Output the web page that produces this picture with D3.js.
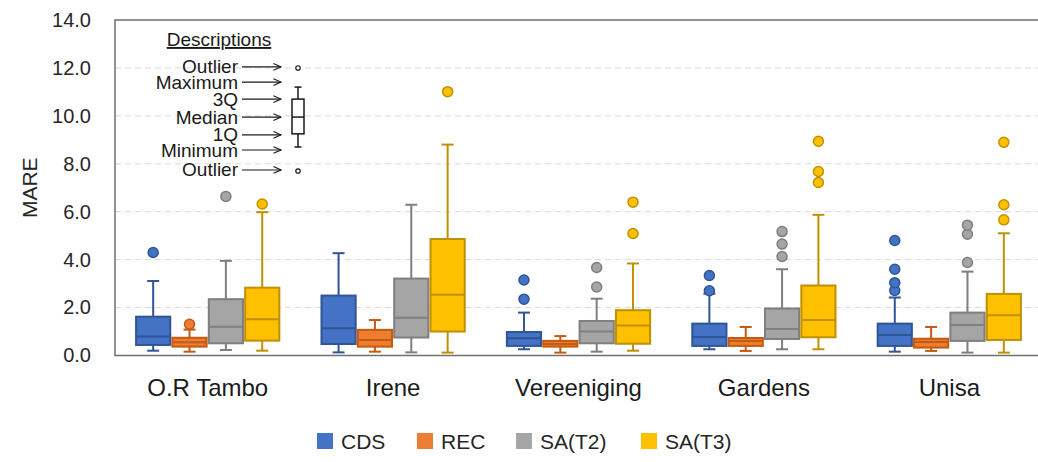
<!DOCTYPE html>
<html>
<head>
<meta charset="utf-8">
<script src="https://cdn.jsdelivr.net/npm/d3@7"></script>
<style>
  html, body { margin: 0; padding: 0; background: #fff; }
  svg { display: block; font-family: "Liberation Sans", Arial, sans-serif; }
</style>
</head>
<body>
<svg id="chart" width="1038" height="462"></svg>
<script>
// Sites and methods
const sites = ["O.R Tambo", "Irene", "Vereeniging", "Gardens", "Unisa"];
const methods = ["CDS", "REC", "SA(T2)", "SA(T3)"];

// Five-number summaries per site: [min, Q1, median, Q3, max]
const cdsStats = [[0.20, 0.44, 0.79, 1.62, 3.11], [0.13, 0.48, 1.14, 2.50, 4.27], [0.26, 0.40, 0.72, 0.98, 1.79], [0.26, 0.40, 0.77, 1.33, 2.58], [0.16, 0.40, 0.86, 1.33, 2.42]];
const recStats = [[0.16, 0.37, 0.55, 0.74, 1.08], [0.16, 0.37, 0.65, 1.07, 1.48], [0.12, 0.37, 0.48, 0.61, 0.81], [0.19, 0.40, 0.61, 0.73, 1.19], [0.19, 0.33, 0.56, 0.70, 1.19]];
const t2Stats  = [[0.23, 0.51, 1.20, 2.35, 3.95], [0.13, 0.75, 1.58, 3.21, 6.29], [0.16, 0.51, 1.00, 1.44, 2.37], [0.26, 0.69, 1.11, 1.96, 3.60], [0.12, 0.61, 1.27, 1.79, 3.50]];
const t3Stats  = [[0.20, 0.62, 1.51, 2.83, 5.98], [0.12, 1.00, 2.53, 4.86, 8.80], [0.20, 0.49, 1.25, 1.89, 3.84], [0.26, 0.76, 1.48, 2.92, 5.87], [0.12, 0.65, 1.68, 2.57, 5.10]];

// Outliers per site
const cdsOutliers = [[4.30], [], [2.35, 3.15], [2.70, 3.34], [2.71, 3.04, 3.60, 4.80]];
const recOutliers = [[1.30], [], [], [], []];
const t2Outliers  = [[6.64], [], [2.86, 3.67], [4.13, 4.65, 5.17], [3.88, 5.06, 5.44]];
const t3Outliers  = [[6.32], [11.01], [5.09, 6.40], [7.22, 7.68, 8.94], [5.66, 6.29, 8.90]];

// Axis ticks
const yTicks = [0, 2, 4, 6, 8, 10, 12, 14];

// Key box explaining the glyph
const keyLabels = ["Outlier", "Maximum", "3Q", "Median", "1Q", "Minimum", "Outlier"];
const keyValues = [12.0, 11.2, 10.7, 9.95, 9.25, 8.7, 7.7];

const fills   = ["#4472C4", "#ED7D31", "#A5A5A5", "#FFC000"];
const strokes = ["#2F5597", "#C55A11", "#7F7F7F", "#BF9000"];
const statsBy = [cdsStats, recStats, t2Stats, t3Stats];
const outBy   = [cdsOutliers, recOutliers, t2Outliers, t3Outliers];

const svg = d3.select("#chart");
const plot = { left: 115, right: 1042, top: 20, bottom: 355.5 };

const y = d3.scaleLinear().domain([0, 14]).range([plot.bottom, plot.top]);
const x = d3.scaleBand().domain(sites).range([plot.left, plot.right]).padding(0);
const xm = d3.scaleBand().domain(methods).range([0, x.bandwidth()])
  .paddingInner(0.06).paddingOuter(0.58);

// Dashed gridlines
svg.append("g").selectAll("line")
  .data(yTicks.filter(t => t > 0 && t < 14))
  .join("line")
  .attr("x1", plot.left).attr("x2", plot.right)
  .attr("y1", d => y(d)).attr("y2", d => y(d))
  .attr("stroke", "#d9d9d9").attr("stroke-width", 1)
  .attr("stroke-dasharray", "6,4");

// Y axis labels
const yAxis = d3.axisLeft(y).tickValues(yTicks).tickFormat(d3.format(".1f")).tickSize(0).tickPadding(24);
const gy = svg.append("g").attr("transform", `translate(${plot.left},0)`).call(yAxis);
gy.select(".domain").remove();
gy.selectAll("text").attr("font-size", 20).attr("fill", "#262626")
  .attr("font-family", "Liberation Sans, Arial, sans-serif");

svg.append("text")
  .attr("transform", `translate(37,${(plot.top + plot.bottom) / 2}) rotate(-90)`)
  .attr("text-anchor", "middle")
  .attr("font-size", 21).attr("fill", "#262626")
  .text("MARE");

// Category labels
const xAxis = d3.axisBottom(x).tickSize(0).tickPadding(23);
const gx = svg.append("g").attr("transform", `translate(0,${plot.bottom})`).call(xAxis);
gx.select(".domain").remove();
gx.selectAll("text").attr("font-size", 24).attr("fill", "#1a1a1a")
  .attr("font-family", "Liberation Sans, Arial, sans-serif");

// Boxes
const boxW = xm.bandwidth();
const capHalf = 6;
methods.forEach((m, mi) => {
  const g = svg.append("g");
  sites.forEach((s, si) => {
    const st = statsBy[mi][si];
    const cx = x(s) + xm(m) + boxW / 2;
    const [mn, q1, md, q3, mx] = st;
    const c = strokes[mi];
    // whiskers
    g.append("line").attr("x1", cx).attr("x2", cx).attr("y1", y(q3)).attr("y2", y(mx))
      .attr("stroke", c).attr("stroke-width", 2);
    g.append("line").attr("x1", cx).attr("x2", cx).attr("y1", y(q1)).attr("y2", y(mn))
      .attr("stroke", c).attr("stroke-width", 2);
    g.append("line").attr("x1", cx - capHalf).attr("x2", cx + capHalf).attr("y1", y(mx)).attr("y2", y(mx))
      .attr("stroke", c).attr("stroke-width", 2);
    g.append("line").attr("x1", cx - capHalf).attr("x2", cx + capHalf).attr("y1", y(mn)).attr("y2", y(mn))
      .attr("stroke", c).attr("stroke-width", 2);
    // box
    g.append("rect").attr("x", x(s) + xm(m)).attr("y", y(q3))
      .attr("width", boxW).attr("height", y(q1) - y(q3))
      .attr("fill", fills[mi]).attr("stroke", c).attr("stroke-width", 2);
    g.append("line").attr("x1", x(s) + xm(m)).attr("x2", x(s) + xm(m) + boxW)
      .attr("y1", y(md)).attr("y2", y(md)).attr("stroke", c).attr("stroke-width", 2);
    // outliers
    g.selectAll(null).data(outBy[mi][si]).join("circle")
      .attr("cx", cx).attr("cy", d => y(d)).attr("r", 5)
      .attr("fill", fills[mi]).attr("stroke", c).attr("stroke-width", 1.5);
  });
});

// Plot frame (top, left, bottom)
svg.append("path")
  .attr("d", `M${plot.right},${plot.top}H${plot.left}V${plot.bottom}H${plot.right}`)
  .attr("fill", "none").attr("stroke", "#6f6f6f").attr("stroke-width", 1.5);

// Key explaining the box glyph
const key = svg.append("g");
const keyX = 298;
key.append("text").attr("x", 219).attr("y", 46).attr("text-anchor", "middle")
  .attr("font-size", 19).attr("fill", "#1a1a1a").attr("text-decoration", "underline")
  .text("Descriptions");
const [kOutHi, kMax, kQ3, kMed, kQ1, kMin, kOutLo] = keyValues;
key.append("line").attr("x1", keyX).attr("x2", keyX).attr("y1", y(kMax)).attr("y2", y(kMin))
  .attr("stroke", "#1a1a1a").attr("stroke-width", 1.5);
key.append("rect").attr("x", keyX - 6).attr("y", y(kQ3)).attr("width", 12).attr("height", y(kQ1) - y(kQ3))
  .attr("fill", "#fff").attr("stroke", "#1a1a1a").attr("stroke-width", 1.5);
key.append("line").attr("x1", keyX - 6).attr("x2", keyX + 6).attr("y1", y(kMed)).attr("y2", y(kMed))
  .attr("stroke", "#1a1a1a").attr("stroke-width", 1.5);
[kMax, kMin].forEach(v => key.append("line").attr("x1", keyX - 3.5).attr("x2", keyX + 3.5)
  .attr("y1", y(v)).attr("y2", y(v)).attr("stroke", "#1a1a1a").attr("stroke-width", 1.5));
[kOutHi, kOutLo].forEach(v => key.append("circle").attr("cx", keyX).attr("cy", y(v)).attr("r", 2.2)
  .attr("fill", "#fff").attr("stroke", "#1a1a1a").attr("stroke-width", 1.2));

// label rows are spread a little so the text doesn't collide
const keyNudge = [-1, -5, 0, 0, 1, 3, -1];
svg.append("defs").append("marker").attr("id", "arrowhead")
  .attr("viewBox", "0 0 10 10").attr("refX", 9).attr("refY", 5)
  .attr("markerWidth", 7).attr("markerHeight", 7).attr("orient", "auto")
  .append("path").attr("d", "M0,1 L9,5 L0,9").attr("fill", "none").attr("stroke", "#1a1a1a").attr("stroke-width", 1.3);
keyLabels.forEach((lab, i) => {
  const ly = y(keyValues[i]) + keyNudge[i];
  key.append("text").attr("x", 238).attr("y", ly + 6.5).attr("text-anchor", "end")
    .attr("font-size", 19).attr("fill", "#1a1a1a").text(lab);
  key.append("line").attr("x1", 242).attr("x2", 281).attr("y1", ly).attr("y2", ly)
    .attr("stroke", "#1a1a1a").attr("stroke-width", 1.2).attr("marker-end", "url(#arrowhead)");
});

// Legend
const legend = svg.append("g").attr("transform", "translate(0,441)");
const legX = [317, 417, 516, 641];
methods.forEach((m, i) => {
  legend.append("rect").attr("x", legX[i]).attr("y", -8).attr("width", 16).attr("height", 16)
    .attr("fill", fills[i]);
  legend.append("text").attr("x", legX[i] + 24).attr("y", 7.5)
    .attr("font-size", 21).attr("fill", "#262626").text(m);
});
</script>
</body>
</html>
